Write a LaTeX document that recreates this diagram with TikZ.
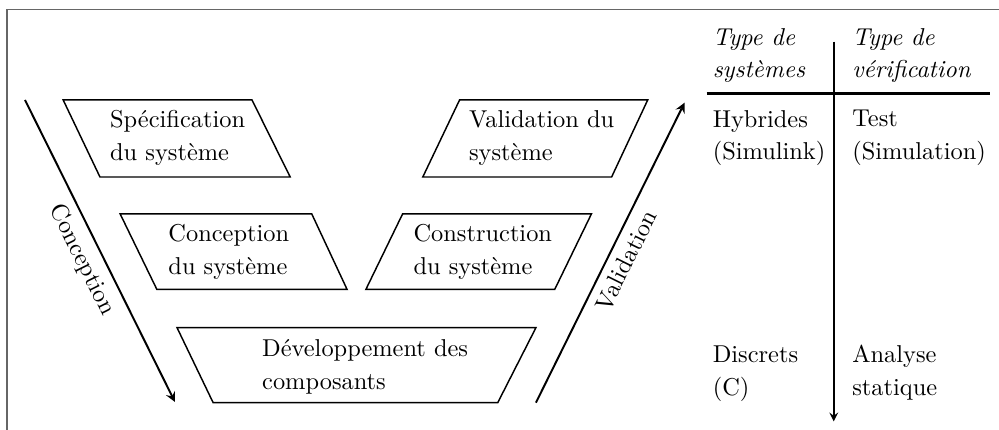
\documentclass[tikz,border=0pt]{standalone}
\usepackage{tikz}

\begin{document}
\begin{tikzpicture}[>=stealth,
        etape/.style={semithick},
        texte/.style={align=left, anchor=west, inner sep=0pt, font=\linespread{1.12}\selectfont},
        entete/.style={texte, font=\itshape\linespread{1.12}\selectfont}]
        \useasboundingbox (0,0) rectangle (14.39,6.19);

        % cadre
        \draw[semithick, black!60] (0.10,0) -- (0.10,6.05) -- (14.39,6.05);

        % etapes du cycle en V
        \draw[etape] (0.91,4.75) -- (3.63,4.75) -- (4.18,3.64) -- (1.44,3.64) -- cycle;
        \node[texte] (spec) at (1.58,4.20) {Spécification\\du système};

        \draw[etape] (6.62,4.75) -- (9.33,4.75) -- (8.81,3.64) -- (6.09,3.64) -- cycle;
        \node[texte] (valid) at (6.75,4.20) {Validation du\\système};

        \draw[etape] (1.73,3.11) -- (4.49,3.11) -- (5.00,2.02) -- (2.26,2.02) -- cycle;
        \node[texte] (concep) at (2.42,2.56) {Conception\\du système};

        \draw[etape] (5.80,3.11) -- (8.52,3.11) -- (7.99,2.02) -- (5.27,2.02) -- cycle;
        \node[texte] (constr) at (5.95,2.56) {Construction\\du système};

        \draw[etape] (2.55,1.47) -- (7.72,1.47) -- (7.17,0.39) -- (3.07,0.39) -- cycle;
        \node[texte] (dev) at (3.77,0.90) {Développement des\\composants};

        % fleches descendante et montante
        \coordinate (concA) at (0.36,4.75);
        \coordinate (concB) at (2.52,0.40);
        \draw[->, thick] (concA) -- (concB) node[midway, below, sloped] (lblconc) {Conception};

        \coordinate (valA) at (7.72,0.39);
        \coordinate (valB) at (9.86,4.71);
        \draw[->, thick] (valA) -- (valB) node[midway, below, sloped] (lblval) {Validation};

        % tableau
        \node[entete] (typesys) at (10.26,5.39) {Type de\\systèmes};
        \node[entete] (typeverif) at (12.27,5.39) {Type de\\vérification};

        \coordinate (regleA) at (10.18,4.84);
        \coordinate (regleB) at (14.26,4.84);
        \draw[very thick] (regleA) -- (regleB);

        \coordinate (sepA) at (12.01,5.59);
        \coordinate (sepB) at (12.01,0.12);
        \draw[->, semithick] (sepA) -- (sepB);

        \node[texte] (hyb) at (10.26,4.20) {Hybrides\\(Simulink)};
        \node[texte] (test) at (12.27,4.20) {Test\\(Simulation)};
        \node[texte] (disc) at (10.26,0.81) {Discrets\\(C)};
        \node[texte] (stat) at (12.27,0.82) {Analyse\\statique};
    \end{tikzpicture}
\end{document}
